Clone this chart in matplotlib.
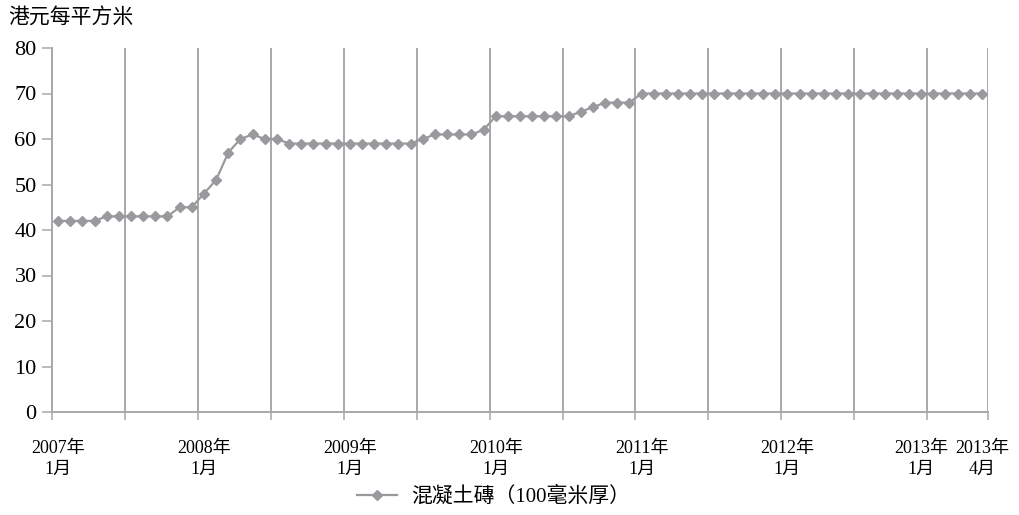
import matplotlib
matplotlib.use("Agg")
import matplotlib.pyplot as plt
import numpy as np

plt.rcParams['font.family'] = ['Liberation Serif', 'Noto Sans CJK TC', 'DejaVu Sans']

# monthly price (HK$ per m2), as drawn in the source chart
p2007 = [42, 42, 42, 42, 43, 43, 43, 43, 43, 43, 45, 45]
p2008 = [48, 51, 57, 60, 61, 60, 60, 59, 59, 59, 59, 59]
p2009 = [59, 59, 59, 59, 59, 59, 60, 61, 61, 61, 61, 62]
p2010 = [65, 65, 65, 65, 65, 65, 65, 66, 67, 68, 68, 68]
p2011 = [70] * 12
p2012 = [70] * 12
p2013 = [70, 70, 70, 70, 70]
precos = p2007 + p2008 + p2009 + p2010 + p2011 + p2012 + p2013

rotulos_x = ["2007年\n1月", "2008年\n1月", "2009年\n1月", "2010年\n1月",
             "2011年\n1月", "2012年\n1月", "2013年\n1月", "2013年\n4月"]
pos_rotulos = [0, 12, 24, 36, 48, 60, 71, 76]
serie_nome = "混凝土磚（100毫米厚）"
unidade = "港元每平方米"

cinza = '#9a9a9e'
grade = '#a8a8a8'

N = len(precos)
ind = np.arange(N)

fig = plt.figure(figsize=(10.2, 5.15), dpi=100)
ax = fig.add_axes([52/1020, 1 - 412/515, (988 - 52)/1020, (412 - 48)/515])

ax.plot(ind, precos, color=cinza, lw=1.6, marker='D', ms=5.5,
        mec=cinza, mfc=cinza, label=serie_nome, clip_on=False, zorder=3)

ax.set_xlim(-0.5, N - 0.5)
ax.set_ylim(0, 80)

# gridlines between categories, every 6 points + right edge
linhas = list(np.arange(-0.5, N - 1, 6)) + [N - 0.5]
ax.set_xticks(linhas)
ax.set_xticklabels([])
ax.tick_params(axis='x', which='major', length=6, width=1.1, color=grade, direction='out')
ax.grid(axis='x', which='major', color=grade, lw=1.4)
ax.set_xticks(pos_rotulos, minor=True)
ax.set_xticklabels(rotulos_x, minor=True, fontsize=13, linespacing=1.35)
ax.tick_params(axis='x', which='minor', length=0, pad=20)

ax.set_yticks(np.arange(0, 81, 10))
ax.tick_params(axis='y', length=7, width=1.1, color=grade, labelsize=16, pad=4)

for s in ['top', 'right']:
    ax.spines[s].set_visible(False)
for s in ['left', 'bottom']:
    ax.spines[s].set_color(grade)
    ax.spines[s].set_linewidth(1.4)

fig.text(8/1020, 1 - 18/515, unidade, fontsize=15, va='center', ha='left',
         family=['Noto Sans CJK TC', 'DejaVu Sans'])

fig.legend(loc='center', bbox_to_anchor=(494/1020, 1 - 497/515), frameon=False,
           prop={'family': ['Liberation Serif', 'Noto Sans CJK TC'], 'size': 15},
           handlelength=1.9, handletextpad=0.7)

fig.savefig('out.png', dpi=100)
